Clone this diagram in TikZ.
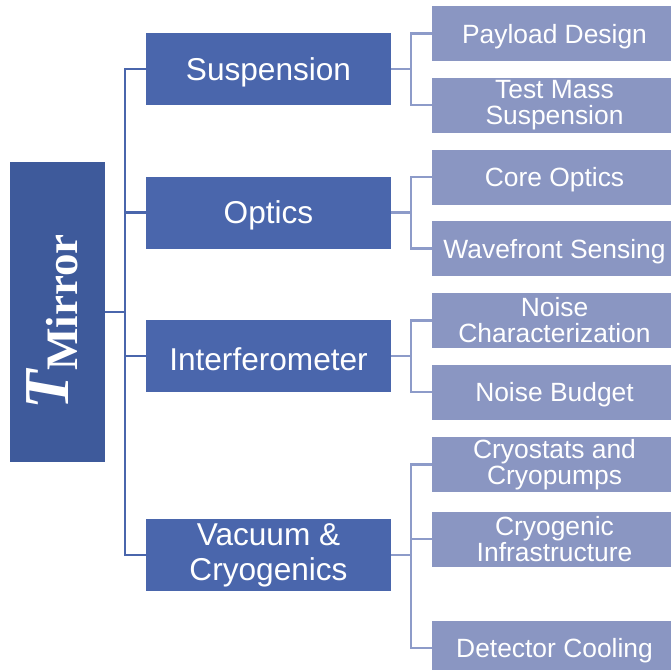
\documentclass[tikz,border=0pt]{standalone}
\usepackage{fontspec}
\setsansfont{Liberation Sans}
\newfontfamily\rootserif{Liberation Serif}
\usepackage{tikz}
\usetikzlibrary{positioning}
\definecolor{rootblue}{HTML}{3E5A9B}
\definecolor{areablue}{HTML}{4A66AC}
\definecolor{taskblue}{HTML}{8A96C2}
\definecolor{twiglight}{HTML}{8D9BC9}
\tikzset{
	mirror tree/.style={
		x=1pt,y=-1pt,
		font=\sffamily,
		trunk/.style={draw=areablue,line width=2.2pt},
		twig/.style={draw=twiglight,line width=2.2pt}
	},
	root box/.style={
		rectangle,
		fill=rootblue,
		text=white,
		minimum width=95pt,
		minimum height=300pt,
		inner sep=0pt
	},
	area box/.style={
		rectangle,
		fill=areablue,
		text=white,
		align=center,
		minimum width=245pt,
		minimum height=72pt,
		inner sep=0pt,
		font=\sffamily\fontsize{31.6}{35}\selectfont,
		execute at begin node=\rule{0pt}{29pt}% push text down a little
	},
	task box/.style={
		rectangle,
		fill=taskblue,
		text=white,
		align=center,
		minimum width=245pt,
		minimum height=55pt,
		inner sep=0pt,
		font=\sffamily\fontsize{26.4}{26}\selectfont,
		execute at begin node=\rule{0pt}{25pt}
	}
}

\begin{document}
\begin{tikzpicture}[mirror tree]
	\useasboundingbox (0,0) rectangle (671,669);
	\clip (0,0) rectangle (671,669);

	% root
	\node[root box] (root) at (57.5,312) {};
	\node[rotate=90,white,inner sep=0pt] (rootlabel) at (52,322)
		{\rootserif\bfseries{\fontsize{64}{64}\selectfont\itshape T}\raisebox{-9pt}{\fontsize{45}{45}\selectfont Mirror}};

	% areas
	\node[area box] (susp) at (268.5,69) {Suspension};
	\node[area box] (optics) at (268.5,212.5) {Optics};
	\node[area box] (ifo) at (268.5,356) {Interferometer};
	\node[area box] (vac) at (268.5,555) {Vacuum \&\\Cryogenics};

	% tasks
	\node[task box] (payload) at (554.5,33.5) {Payload Design};
	\node[task box] (testmass) at (554.5,105) {Test Mass\\Suspension};
	\node[task box] (core) at (554.5,177) {Core Optics};
	\node[task box] (wavefront) at (554.5,248.5) {Wavefront Sensing};
	\node[task box] (noisechar) at (554.5,320.5) {Noise\\Characterization};
	\node[task box] (budget) at (554.5,392) {Noise Budget};
	\node[task box] (cryostats) at (554.5,464.5) {Cryostats and\\Cryopumps};
	\node[task box] (cryoinfra) at (554.5,539) {Cryogenic\\Infrastructure};
	\node[task box] (cooling) at (554.5,648) {Detector Cooling};

	% trunk
	\draw[trunk] (root.east) -- ++(20,0);
	\draw[trunk] (susp.west) -- ++(-21,0) |- (vac.west);
	\draw[trunk] (optics.west) -- ++(-21,0);
	\draw[trunk] (ifo.west) -- ++(-21,0);

	% twigs
	\draw[twig] (susp.east) -- ++(20,0);
	\draw[twig] (payload.west) -- ++(-21,0) |- (testmass.west);
	\draw[twig] (optics.east) -- ++(20,0);
	\draw[twig] (core.west) -- ++(-21,0) |- (wavefront.west);
	\draw[twig] (ifo.east) -- ++(20,0);
	\draw[twig] (noisechar.west) -- ++(-21,0) |- (budget.west);
	\draw[twig] (vac.east) -- ++(20,0);
	\draw[twig] (cryostats.west) -- ++(-21,0) |- (cooling.west);
	\draw[twig] (cryoinfra.west) -- ++(-21,0);
\end{tikzpicture}
\end{document}
